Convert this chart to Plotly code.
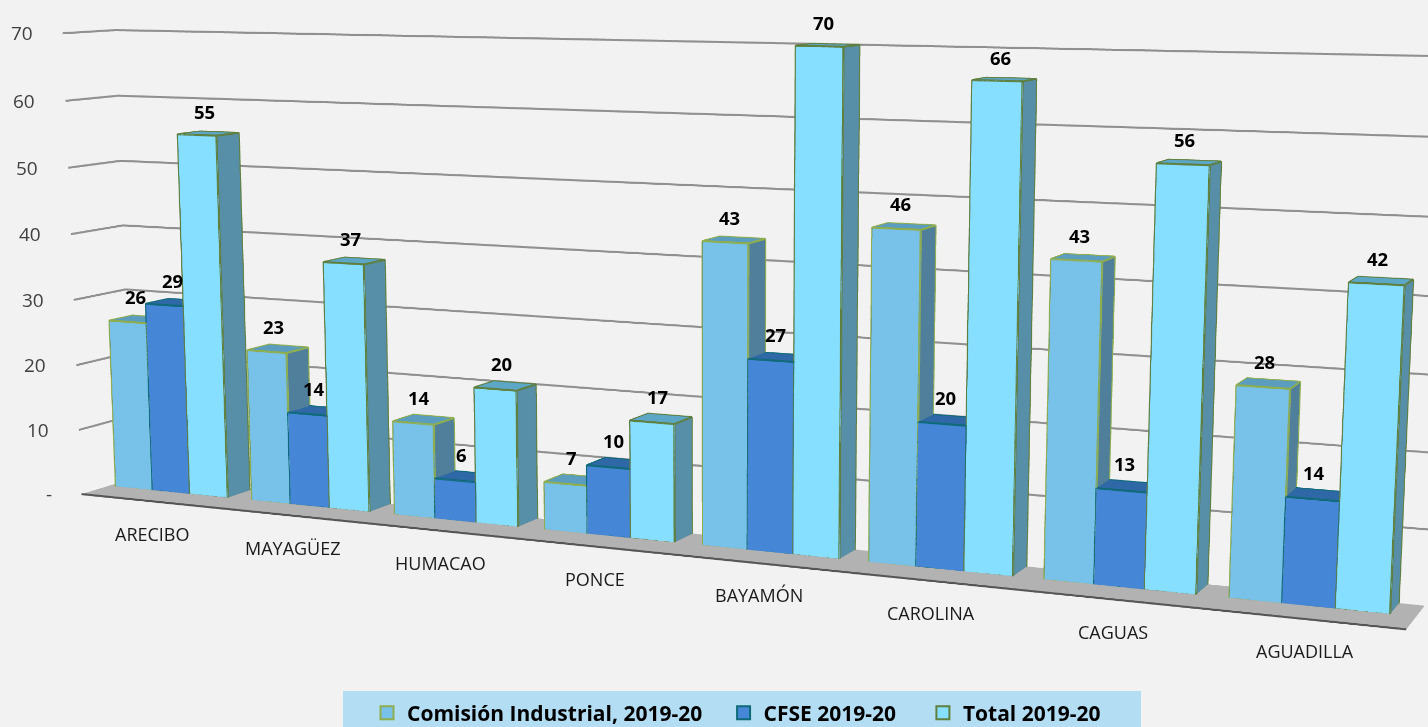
import plotly.graph_objects as go

# ---- data ----
categories = ["ARECIBO", "MAYAGÜEZ", "HUMACAO", "PONCE", "BAYAMÓN", "CAROLINA", "CAGUAS", "AGUADILLA"]
comision = [26, 23, 14, 7, 43, 46, 43, 28]
cfse = [29, 14, 6, 10, 27, 20, 13, 14]
total = [55, 37, 20, 17, 70, 66, 56, 42]
series_names = ["Comisión Industrial, 2019-20", "CFSE 2019-20", "Total 2019-20"]
tick_values = [0, 10, 20, 30, 40, 50, 60, 70]
tick_labels = ["-", "10", "20", "30", "40", "50", "60", "70"]

# ---- styling ----
FRONT = ["#78C1E9", "#4686D6", "#87DFFF"]
TOP = ["#5B9DBF", "#2F68A6", "#5CA6C6"]
SIDE = ["#4F7F9B", "#2F5F8F", "#588FA8"]
EDGE = ["#8FAE4E", "#0E6A78", "#5F7F3F"]
BG = "#F2F2F2"
BAND = "#B3DDF3"
LEGEND_PAD = ["\u00a0\u00a0\u00a0", "\u00a0\u00a0\u00a0\u00a0", ""]

X0, X1 = -0.465, 7.543
BAR_W = 0.275
Y0, Y1 = 0.53, 0.98

# the page is a 3x3 tile sheet; the browser window shows the middle tile, which
# narrows the 45 degree view of the 3D scene to the picture's 15 degree lens
K = 3
W, H = 1428, 727
def px(u):
    return (u + W) / (K * W)
def py(v):
    return 1 - (v + H) / (K * H)

fig = go.Figure()

# floor
fig.add_trace(go.Mesh3d(x=[X0, X1, X1, X0], y=[0, 0, 1, 1], z=[0, 0, 0, 0],
                        i=[0, 0], j=[1, 2], k=[2, 3], color="#B2B2B2",
                        lighting=dict(ambient=1, diffuse=0, specular=0, fresnel=0),
                        flatshading=True, showlegend=False, hoverinfo="skip"))
fig.add_trace(go.Scatter3d(x=[X0, X1], y=[0, 0], z=[0, 0], mode="lines",
                           line=dict(color="#555555", width=4), showlegend=False, hoverinfo="skip"))

# gridlines on the two walls
gx, gy, gz = [], [], []
for t in tick_values[1:]:
    gx += [X0, X0, X1, None]
    gy += [0, 1, 1, None]
    gz += [t, t, t, None]
fig.add_trace(go.Scatter3d(x=gx, y=gy, z=gz, mode="lines",
                           line=dict(color="#909090", width=4), showlegend=False, hoverinfo="skip"))

# bars
for s, values in enumerate([comision, cfse, total]):
    vx, vy, vz, fi, fj, fk, fc = [], [], [], [], [], [], []
    lx, ly, lz = [], [], []
    for c, v in enumerate(values):
        x0 = c + (s - 1.5) * BAR_W
        x1 = x0 + BAR_W
        n = len(vx)
        vx += [x0, x1, x1, x0, x0, x1, x1, x0]
        vy += [Y0, Y0, Y1, Y1, Y0, Y0, Y1, Y1]
        vz += [0, 0, 0, 0, v, v, v, v]
        faces = [((0, 1, 5), FRONT[s]), ((0, 5, 4), FRONT[s]),
                 ((1, 2, 6), SIDE[s]), ((1, 6, 5), SIDE[s]),
                 ((2, 3, 7), SIDE[s]), ((2, 7, 6), SIDE[s]),
                 ((3, 0, 4), SIDE[s]), ((3, 4, 7), SIDE[s]),
                 ((4, 5, 6), TOP[s]), ((4, 6, 7), TOP[s])]
        for (a, b, d), col in faces:
            fi.append(n + a); fj.append(n + b); fk.append(n + d); fc.append(col)
        for path in [(0, 1, 2, 6, 7, 4, 0), (1, 5, 4), (5, 6)]:
            for p in path:
                lx.append(vx[n + p]); ly.append(vy[n + p]); lz.append(vz[n + p])
            lx.append(None); ly.append(None); lz.append(None)
    fig.add_trace(go.Mesh3d(x=vx, y=vy, z=vz, i=fi, j=fj, k=fk, facecolor=fc, flatshading=True,
                            lighting=dict(ambient=1, diffuse=0, specular=0, fresnel=0),
                            showlegend=False, hoverinfo="skip"))
    fig.add_trace(go.Scatter3d(x=lx, y=ly, z=lz, mode="lines",
                               line=dict(color=EDGE[s], width=4), showlegend=False, hoverinfo="skip"))
    fig.add_trace(go.Scatter3d(x=[None], y=[None], z=[None], mode="markers",
                               name=series_names[s] + LEGEND_PAD[s],
                               marker=dict(symbol="square", size=13, color=FRONT[s],
                                           line=dict(color=EDGE[s], width=2))))

# texts anchored in the scene
notes = []
for s, values in enumerate([comision, cfse, total]):
    for c, v in enumerate(values):
        notes.append(dict(x=c + (s - 1) * BAR_W, y=(Y0 + Y1) / 2, z=v, text=str(v), showarrow=False,
                          xanchor="center", yanchor="bottom", xshift=-4, yshift=8,
                          font=dict(family="Open Sans", size=18.5, color="#000000", weight="bold")))
for c, name in enumerate(categories):
    notes.append(dict(x=c, y=0, z=0, text=name, showarrow=False, xanchor="center", yanchor="middle",
                      xshift=8, yshift=-33, font=dict(family="Open Sans", size=18, color="#1A1A1A")))
for t, lab in zip(tick_values, tick_labels):
    notes.append(dict(x=X0, y=0, z=t, text=lab, showarrow=False, xanchor="right", yanchor="middle",
                      xshift=-28, font=dict(family="Open Sans", size=19, color="#404040")))

hidden = dict(visible=False, showspikes=False)
fig.update_layout(
    width=K * W, height=K * H, autosize=False, paper_bgcolor=BG, plot_bgcolor=BG,
    margin=dict(l=0, r=0, t=0, b=0, pad=0),
    scene=dict(
        domain=dict(x=[0, 1], y=[0, 1]), bgcolor=BG,
        xaxis=dict(range=[X0 - 0.02, X1 + 0.02], **hidden),
        yaxis=dict(range=[-0.02, 1.02], **hidden),
        zaxis=dict(range=[-1, 71], **hidden),
        aspectmode="manual", aspectratio=dict(x=1.9063, y=0.129, z=0.7151),
        camera=dict(eye=dict(x=1.4812, y=-3.2608, z=0.5152),
                    center=dict(x=-0.1228, y=0.342, z=-0.152),
                    up=dict(x=0, y=0, z=1),
                    projection=dict(type="perspective")),
        annotations=notes,
    ),
    shapes=[dict(type="rect", xref="paper", yref="paper", x0=px(343), x1=px(1141), y0=py(691), y1=py(727),
                 fillcolor=BAND, line=dict(width=0), layer="above")],
    showlegend=True,
    legend=dict(orientation="h", x=px(367), y=py(713), xanchor="left", yanchor="middle",
                bgcolor="rgba(0,0,0,0)", font=dict(family="Open Sans", size=21, color="#000000", weight="bold")),
)

place = ("var gd=document.getElementById('{plot_id}');"
         "document.documentElement.style.overflow='hidden';document.body.style.overflow='hidden';"
         "document.body.style.margin='0';gd.style.position='fixed';"
         "gd.style.left='-%dpx';gd.style.top='-%dpx';" % (W, H))
fig.write_html("out.html", post_script=place, config=dict(displayModeBar=False))
